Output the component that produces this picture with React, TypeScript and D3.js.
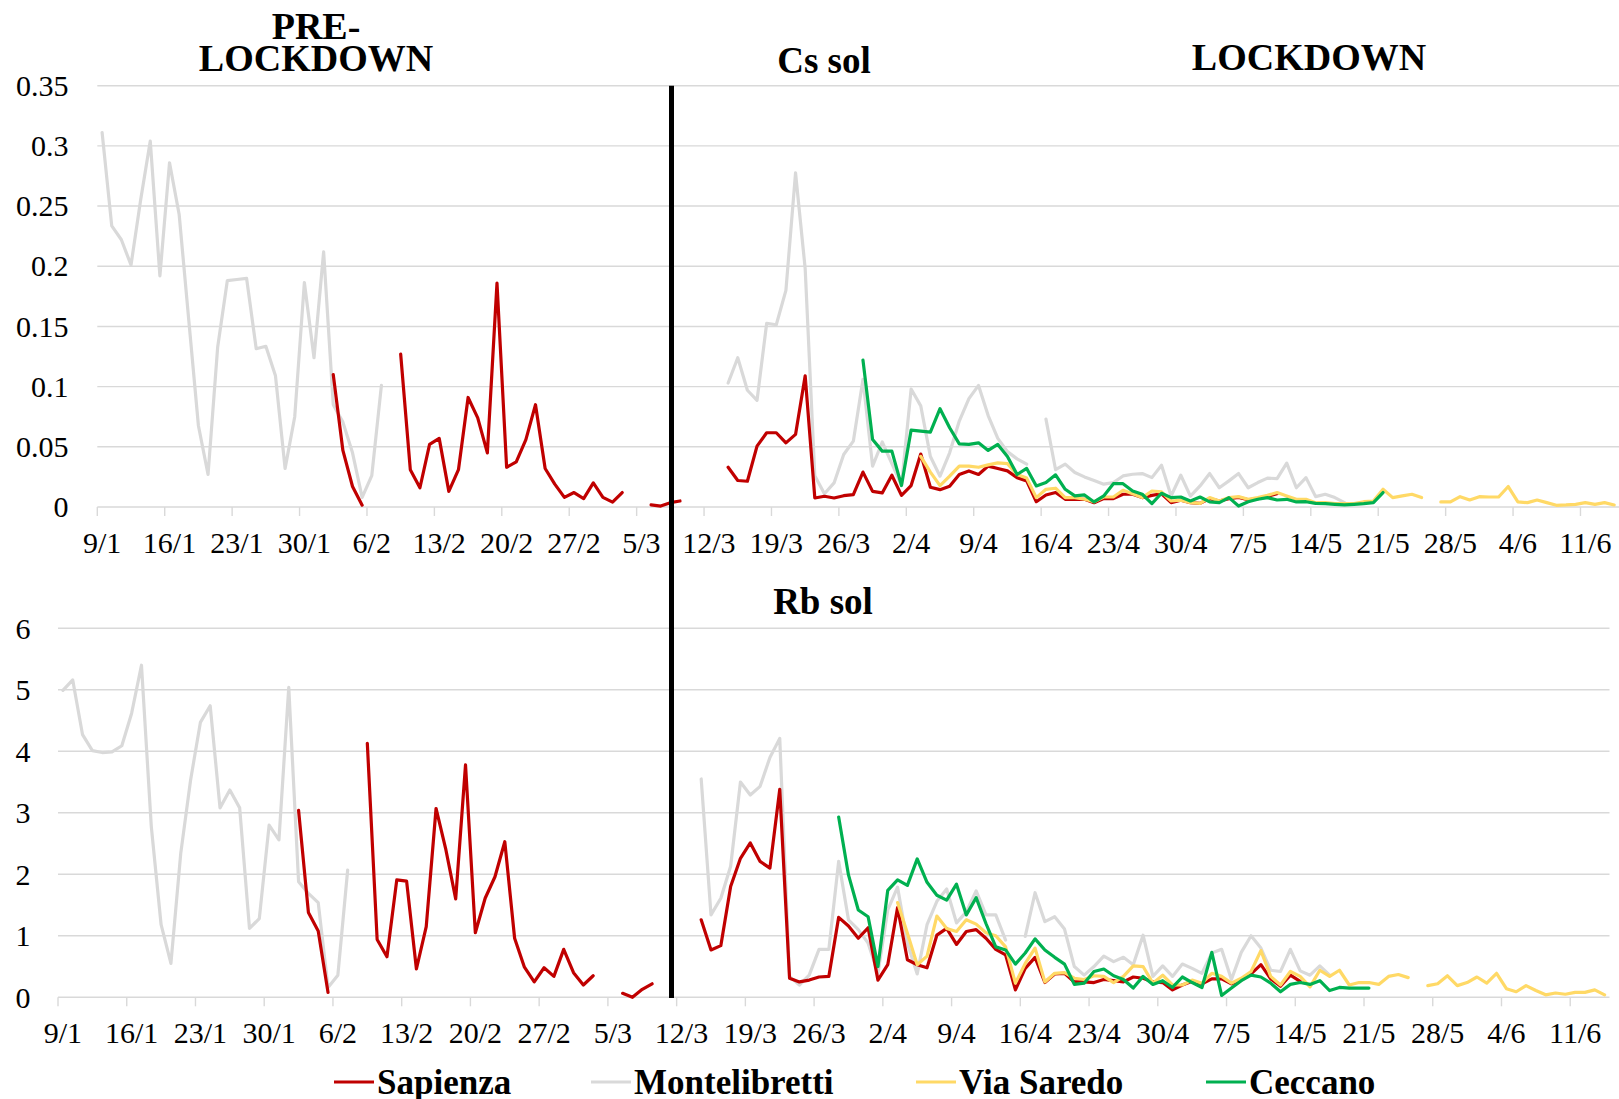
import React from "react";
import * as d3 from "d3";

// ---------- DATA ----------
const START_DATE = Date.UTC(2020, 0, 9); // 9/1/2020, day index 0
const END_DATE = Date.UTC(2020, 5, 15); // axis end (158 daily bands)
const DAY = 86400000;

const tickLabels = [
  "9/1", "16/1", "23/1", "30/1", "6/2", "13/2", "20/2", "27/2", "5/3", "12/3", "19/3", "26/3",
  "2/4", "9/4", "16/4", "23/4", "30/4", "7/5", "14/5", "21/5", "28/5", "4/6", "11/6",
];
const csTicks = [0, 0.05, 0.1, 0.15, 0.2, 0.25, 0.3, 0.35];
const rbTicks = [0, 1, 2, 3, 4, 5, 6];

const seriesNames = ["Sapienza", "Montelibretti", "Via Saredo", "Ceccano"];
const seriesColors = ["#C00000", "#D9D9D9", "#FFD966", "#00B050"];
// first day index (days after 9/1) of each series array
const seriesStart = [24, 0, 85, 79];

const N = null;

// ---- Cs sol ----
const csSapienza = [
  0.110, 0.047, 0.017, 0.0015, N, N, N,
  0.127, 0.031, 0.016, 0.052, 0.057, 0.013, 0.031, 0.091, 0.074, 0.045, 0.186, 0.033, 0.0375, 0.056,
  0.085, 0.032, 0.019, 0.008, 0.012, 0.007, 0.020, 0.008, 0.004, 0.012, N, N, 0.0017, 0.0008, 0.0036,
  0.005, N, N, N, N,
  0.033, 0.022, 0.0214, 0.0506, 0.0617, 0.0617, 0.0533, 0.0603, 0.109, 0.0075, 0.0089, 0.0075, 0.0094,
  0.0103, 0.029, 0.013, 0.0117, 0.0264, 0.0097, 0.0178, 0.044, 0.0164, 0.0144, 0.0172, 0.027, 0.030,
  0.027, 0.034, 0.032, 0.030, 0.0244, 0.0217, 0.0044, 0.010, 0.012, 0.0064, 0.0064, 0.0064, 0.0036,
  0.007, 0.007, 0.0106, 0.0106, 0.0078, 0.0097, 0.011, 0.0036, 0.0056, 0.0036, 0.003, 0.007, 0.005,
  0.007, 0.008, 0.006, 0.007, 0.009, 0.011,
];
const csMontelibretti = [
  0.311, 0.2335, 0.222, 0.201, 0.255, 0.304, 0.192, 0.286, 0.243, 0.155, 0.0675, 0.027, 0.133, 0.188,
  0.189, 0.190, 0.1315, 0.1335, 0.109, 0.032, 0.075, 0.1865, 0.124, 0.212, 0.085, 0.0705, 0.045, 0.008,
  0.026, 0.101,
  N, N, N, N, N, N, N, N, N, N, N, N, N, N, N, N, N, N, N, N, N, N, N, N, N, N, N, N, N, N, N, N, N, N, N,
  0.103, 0.124, 0.097, 0.0886, 0.1525, 0.1514, 0.180, 0.2775, 0.198, 0.026, 0.011, 0.020, 0.0436, 0.0547,
  0.106, 0.034, 0.054, 0.036, 0.018, 0.098, 0.084, 0.042, 0.0256, 0.045, 0.0714, 0.090, 0.101, 0.076,
  0.057, 0.046, 0.040, 0.0356, N, 0.073, 0.031, 0.0356, 0.0286, 0.025, 0.022, 0.019, 0.0203, 0.0258,
  0.0272, 0.0278, 0.0244, 0.0347, 0.0092, 0.0264, 0.009, 0.0175, 0.0278, 0.016, 0.0217, 0.0278, 0.016,
  0.0203, 0.024, 0.0236, 0.0364, 0.016, 0.0244, 0.0086, 0.0106, 0.0078, 0.0036,
];
const csViaSaredo = [
  0.042, 0.029, 0.0178, 0.0256, 0.034, 0.034, 0.033, 0.035, 0.0367, 0.036, 0.027, 0.024, 0.0078, 0.0147,
  0.0156, 0.0078, 0.0078, 0.0064, 0.0044, 0.0083, 0.0083, 0.0139, 0.011, 0.0078, 0.0133, 0.0125, 0.005,
  0.0056, 0.0036, 0.003, 0.0078, 0.005, 0.0078, 0.0086, 0.0064, 0.0078, 0.0097, 0.012, 0.0092, 0.0064,
  0.0064, 0.0036, 0.0036, 0.0028, 0.0028, 0.0028, 0.0044, 0.005, 0.0147, 0.0078, 0.0092, 0.0106, 0.0078,
  N, 0.0042, 0.0042, 0.0086, 0.0058, 0.0086, 0.0083, 0.0083, 0.017, 0.0042, 0.0036, 0.0058, 0.0036,
  0.0014, 0.0017, 0.0022, 0.0036, 0.0022, 0.0036, 0.0017,
];
const csCeccano = [
  0.122, 0.056, 0.0464, 0.0464, 0.0178, 0.0639, 0.063, 0.0622, 0.0817, 0.0658, 0.0525, 0.052, 0.0533,
  0.047, 0.052, 0.042, 0.027, 0.032, 0.0175, 0.0203, 0.0267, 0.0147, 0.0092, 0.010, 0.0042, 0.0092,
  0.0194, 0.0194, 0.0133, 0.0106, 0.0028, 0.0114, 0.0078, 0.0083, 0.005, 0.0083, 0.0042, 0.0036, 0.0078,
  0.0008, 0.0044, 0.0064, 0.0078, 0.0058, 0.0064, 0.0042, 0.0044, 0.003, 0.0028, 0.0022, 0.0017, 0.0022,
  0.0028, 0.0036, 0.012,
];

// ---- Rb sol ----
const rbSapienza = [
  3.04, 1.38, 1.08, 0.08, N, N, N,
  4.13, 0.94, 0.66, 1.91, 1.89, 0.46, 1.15, 3.07, 2.40, 1.60, 3.78, 1.05, 1.61, 1.96, 2.53, 0.96, 0.49,
  0.25, 0.48, 0.34, 0.78, 0.40, 0.20, 0.35, N, N, 0.065, 0.0, 0.13, 0.22, N, N, N, N,
  1.26, 0.77, 0.84, 1.80, 2.26, 2.51, 2.21, 2.10, 3.38, 0.31, 0.25, 0.28, 0.33, 0.34, 1.30, 1.16, 0.96,
  1.13, 0.28, 0.53, 1.46, 0.61, 0.53, 0.48, 1.01, 1.12, 0.86, 1.07, 1.10, 0.96, 0.78, 0.69, 0.12, 0.47,
  0.65, 0.24, 0.38, 0.39, 0.25, 0.25, 0.24, 0.29, 0.27, 0.25, 0.33, 0.31, 0.25, 0.24, 0.12, 0.20, 0.26,
  0.22, 0.30, 0.30, 0.22, 0.28, 0.38, 0.53, 0.30, 0.18, 0.36, 0.26,
];
const rbMontelibretti = [
  4.99, 5.16, 4.27, 4.01, 3.98, 3.99, 4.09, 4.62, 5.40, 2.78, 1.18, 0.55, 2.34, 3.53, 4.47, 4.74, 3.08,
  3.37, 3.08, 1.12, 1.28, 2.80, 2.56, 5.04, 1.88, 1.69, 1.54, 0.16, 0.36, 2.07,
  N, N, N, N, N, N, N, N, N, N, N, N, N, N, N, N, N, N, N, N, N, N, N, N, N, N, N, N, N, N, N, N, N, N, N,
  3.55, 1.34, 1.61, 2.13, 3.50, 3.29, 3.43, 3.90, 4.21, 0.34, 0.20, 0.36, 0.78, 0.78, 2.21, 1.26, 1.10,
  0.88, 0.39, 1.42, 1.79, 0.88, 0.38, 1.18, 1.56, 1.76, 1.21, 1.39, 1.73, 1.34, 1.34, 0.93, N, 0.99,
  1.70, 1.23, 1.31, 1.11, 0.50, 0.36, 0.50, 0.67, 0.58, 0.65, 0.53, 1.01, 0.34, 0.51, 0.34, 0.54, 0.47,
  0.39, 0.72, 0.78, 0.29, 0.73, 1.0, 0.80, 0.44, 0.42, 0.78, 0.43, 0.36, 0.51, 0.36,
];
const rbViaSaredo = [
  1.54, 1.04, 0.53, 0.67, 1.32, 1.12, 1.07, 1.26, 1.19, 1.05, 1.0, 0.82, 0.23, 0.55, 0.80, 0.25, 0.39,
  0.40, 0.31, 0.29, 0.35, 0.34, 0.24, 0.34, 0.51, 0.50, 0.23, 0.36, 0.20, 0.20, 0.28, 0.23, 0.39, 0.34,
  0.23, 0.31, 0.42, 0.76, 0.34, 0.20, 0.42, 0.34, 0.17, 0.44, 0.34, 0.44, 0.20, 0.24, 0.24, 0.21, 0.34,
  0.37, 0.32, N, 0.19, 0.22, 0.35, 0.19, 0.24, 0.33, 0.23, 0.39, 0.14, 0.09, 0.19, 0.11, 0.04, 0.07,
  0.05, 0.08, 0.08, 0.12, 0.04,
];
const rbCeccano = [
  2.93, 1.99, 1.42, 1.31, 0.50, 1.74, 1.91, 1.82, 2.25, 1.87, 1.66, 1.58, 1.84, 1.34, 1.62, 1.20, 0.82,
  0.77, 0.54, 0.72, 0.95, 0.77, 0.65, 0.54, 0.21, 0.23, 0.42, 0.46, 0.35, 0.29, 0.15, 0.34, 0.21, 0.27,
  0.16, 0.33, 0.24, 0.16, 0.73, 0.03, 0.15, 0.27, 0.36, 0.33, 0.23, 0.09, 0.21, 0.24, 0.21, 0.27, 0.11,
  0.16, 0.15, 0.15, 0.15,
];

const csData = [csSapienza, csMontelibretti, csViaSaredo, csCeccano];
const rbData = [rbSapienza, rbMontelibretti, rbViaSaredo, rbCeccano];
const drawOrder = [1, 0, 2, 3];

// ---------- LAYOUT ----------
const W = 1619;
const H = 1099;
const FONT = "'Liberation Serif', 'Times New Roman', serif";
const GRID = "#D9D9D9";

function parseLabel(s: string) {
  const [d, m] = s.split("/").map(Number);
  return Date.UTC(2020, m - 1, d);
}

type PanelProps = {
  xRange: [number, number];
  yRange: [number, number];
  yDomain: [number, number];
  yTicks: number[];
  yLabelX: number;
  data: (number | null)[][];
};

function Panel({ xRange, yRange, yDomain, yTicks, yLabelX, data }: PanelProps) {
  const x = d3.scaleUtc().domain([START_DATE, END_DATE]).range(xRange);
  const y = d3.scaleLinear().domain(yDomain).range(yRange);
  const line = d3
    .line<{ t: number; v: number | null }>()
    .defined((p) => p.v !== null)
    .x((p) => x(p.t))
    .y((p) => y(p.v as number));
  const y0 = y(0);
  return (
    <g>
      {yTicks.map((t) => (
        <g key={t}>
          <line x1={xRange[0]} x2={xRange[1]} y1={y(t)} y2={y(t)} stroke={GRID} strokeWidth={1.4} />
          <text x={yLabelX} y={y(t)} dy="0.34em" textAnchor="end" fontSize={30} fontFamily={FONT} fill="#000">
            {String(+t.toFixed(2))}
          </text>
        </g>
      ))}
      {tickLabels.map((lab) => {
        const t0 = parseLabel(lab);
        return (
          <g key={lab}>
            <line x1={x(t0)} x2={x(t0)} y1={y0} y2={y0 + 9} stroke={GRID} strokeWidth={1.4} />
            <text x={x(t0 + DAY / 2)} y={y0 + 46} textAnchor="middle" fontSize={30} fontFamily={FONT} fill="#000">
              {lab}
            </text>
          </g>
        );
      })}
      {drawOrder.map((si) => {
        const pts = data[si].map((v, i) => ({ t: START_DATE + (seriesStart[si] + i) * DAY + DAY / 2, v }));
        return (
          <path
            key={si}
            d={line(pts) || ""}
            fill="none"
            stroke={seriesColors[si]}
            strokeWidth={3.2}
            strokeLinejoin="round"
            strokeLinecap="round"
          />
        );
      })}
    </g>
  );
}

const legendX = [334, 591, 916, 1206];

export default function App() {
  return (
    <div style={{ position: "absolute", left: 0, top: 0, width: W, height: H, background: "#fff" }}>
      <svg width={W} height={H} viewBox={`0 0 ${W} ${H}`} style={{ display: "block" }}>
        <rect width={W} height={H} fill="#fff" />
        <Panel
          xRange={[97.3, 1619]}
          yRange={[507, 85.7]}
          yDomain={[0, 0.35]}
          yTicks={csTicks}
          yLabelX={68.5}
          data={csData}
        />
        <Panel
          xRange={[58, 1609.5]}
          yRange={[997.3, 628.3]}
          yDomain={[0, 6]}
          yTicks={rbTicks}
          yLabelX={30.5}
          data={rbData}
        />
        {/* lockdown separator */}
        <line x1={671.5} x2={671.5} y1={85.7} y2={998} stroke="#000" strokeWidth={5} />
        {/* titles */}
        <g fontFamily={FONT} fontWeight="bold" fontSize={38} fill="#000" textAnchor="middle">
          <text x={316} y={39}>PRE-</text>
          <text x={316} y={71}>LOCKDOWN</text>
          <text x={1309} y={70}>LOCKDOWN</text>
          <text x={824} y={73} fontSize={37}>Cs sol</text>
          <text x={823} y={614} fontSize={37}>Rb sol</text>
        </g>
        {/* legend */}
        <g fontFamily={FONT} fontWeight="bold" fontSize={35} fill="#000">
          {seriesNames.map((n, i) => (
            <g key={n}>
              <line x1={legendX[i]} x2={legendX[i] + 40} y1={1082} y2={1082} stroke={seriesColors[i]} strokeWidth={3.2} />
              <text x={legendX[i] + 43} y={1094}>{n}</text>
            </g>
          ))}
        </g>
      </svg>
    </div>
  );
}
